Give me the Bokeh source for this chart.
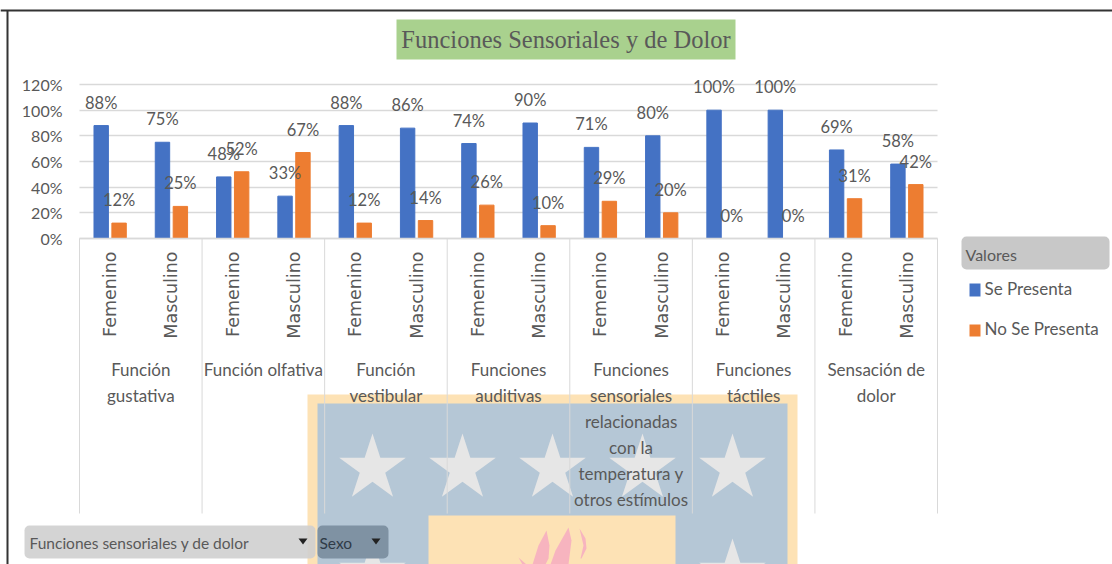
from bokeh.plotting import figure
from bokeh.models import ColumnDataSource, Range1d, LinearAxis, FixedTicker, PrintfTickFormatter, BoxAnnotation, PolyAnnotation, Label, Grid
from bokeh.embed import file_html
from bokeh.resources import INLINE
from bokeh.core.properties import value
import math

groups = ["Función\ngustativa", "Función olfativa", "Función\nvestibular", "Funciones\nauditivas",
          "Funciones\nsensoriales\nrelacionadas\ncon la\ntemperatura y\notros estímulos", "Funciones\ntáctiles", "Sensación de\ndolor"]
sexes = ["Femenino", "Masculino"]
se_presenta = [88, 75, 48, 33, 88, 86, 74, 90, 71, 80, 100, 100, 69, 58]
no_se_presenta = [12, 25, 52, 67, 12, 14, 26, 10, 29, 20, 0, 0, 31, 42]
y_ticks = [0, 20, 40, 60, 80, 100, 120]
title_text = "Funciones Sensoriales y de Dolor"
legend_title = "Valores"
series_names = ["Se Presenta", "No Se Presenta"]
slicers = ["Funciones sensoriales y de dolor", "Sexo"]

BLUE, ORANGE = "#4472c4", "#ed7d31"
TXT = "#595959"
GRID = "#d9d9d9"
FONT = "Lato"
W, H = 1112, 564
X0, XU = 79.0, 858/14   # pixel of category 0 and pixels per category
Y0, YU = 238.0, 154/120  # pixel of 0% and pixels per percent

xpos = [i + 0.5 for i in range(len(se_presenta))]
src = dict(x=xpos, a=se_presenta, b=no_se_presenta, at=[f"{v}%" for v in se_presenta], bt=[f"{v}%" for v in no_se_presenta])
src = ColumnDataSource(src)

p = figure(width=W, height=H, output_backend="svg", toolbar_location=None,
           x_range=Range1d(-X0/XU, (W-X0)/XU), y_range=Range1d(-(H-Y0)/YU, Y0/YU),
           x_axis_type=None, y_axis_type=None,
           min_border_left=0, min_border_right=0, min_border_top=0, min_border_bottom=0)
p.outline_line_color = None
p.background_fill_color = "white"
p.border_fill_color = "white"

def box(l, r, t, b, color, level="underlay", **kw):
    return BoxAnnotation(left=l, right=r, top=t, bottom=b, left_units="canvas", right_units="canvas",
                         top_units="canvas", bottom_units="canvas", fill_color=color, fill_alpha=kw.pop("alpha", 1),
                         line_color=None, level=level, **kw)

def label(x, y, text, size, color=TXT, font=FONT, align="left"):
    return Label(x=x, y=y, x_units="canvas", y_units="canvas", text=text, text_font=font, text_font_size=f"{size}px",
                 text_color=color, text_align=align, text_baseline="middle", level="overlay")

def poly(xs, ys, color, level="underlay"):
    return PolyAnnotation(xs=xs, ys=ys, xs_units="canvas", ys_units="canvas",
                          fill_color=color, fill_alpha=1, line_color=None, level=level)

def star(cx, cy, r):
    xs, ys = [], []
    for i in range(10):
        rr = r if i % 2 == 0 else r*0.382
        a = -math.pi/2 + i*math.pi/5
        xs.append(cx+rr*math.cos(a)); ys.append(cy+rr*math.sin(a))
    return xs, ys

# watermark behind the chart
p.add_layout(box(307, 797, 394, 564, "#fde2b5"))
p.add_layout(box(317, 787, 403, 564, "#b5c7d6"))
for cx, cy in [(372, 468), (462, 468), (552, 468), (642, 468), (732, 468), (372, 573), (732, 573)]:
    p.add_layout(poly(*star(cx, cy, 35), "#e6e6e6"))
p.add_layout(box(428, 675, 515, 564, "#fde2b5"))
for fx, fy in [([546, 549, 548, 545, 532, 538], [530, 545, 558, 564, 564, 545]),
               ([568, 571, 568, 550, 555], [527, 540, 564, 564, 550]),
               ([579, 585, 586, 581, 580, 583], [528, 538, 548, 558, 558, 545]),
               ([518, 526, 522], [557, 564, 564])]:
    p.add_layout(poly(fx, fy, "#f7b4bf"))

# axes
yax = LinearAxis(fixed_location=0, ticker=FixedTicker(ticks=y_ticks), formatter=PrintfTickFormatter(format="%d%%"),
                 bounds=(0, 120), axis_line_color=None, major_tick_line_color=None, minor_tick_line_color=None,
                 major_label_text_font=FONT, major_label_text_font_size="16px", major_label_text_color=TXT,
                 major_label_standoff=11)
p.add_layout(yax, "left")
p.add_layout(Grid(axis=yax, dimension=1, cross_bounds=(0, len(xpos)), grid_line_color=GRID, grid_line_width=1.5))

xax = LinearAxis(fixed_location=0, ticker=FixedTicker(ticks=xpos), bounds=(0, len(xpos)),
                 major_label_overrides={x: sexes[i % 2] for i, x in enumerate(xpos)},
                 axis_line_color=GRID, axis_line_width=1.5, major_tick_line_color=None, minor_tick_line_color=None,
                 major_label_orientation=math.pi/2, major_label_text_font="DejaVu Sans", major_label_text_font_size="17.5px",
                 major_label_text_color=TXT, major_label_standoff=7)
p.add_layout(xax, "below")

# separators between groups and group names
seps = list(range(0, 2*len(groups)+1, 2))
p.segment(x0=seps, x1=seps, y0=0, y1=-(513-Y0)/YU, line_color=GRID, line_width=1)
p.text(x=[2*i+1 for i in range(len(groups))], y=[-(358-Y0)/YU]*len(groups), text=groups, text_font=value(FONT), text_font_size="17px",
       text_color=TXT, text_align="center", text_baseline="top", text_line_height=1.24)

WB, DX = 0.235, 0.146
xa = [x-DX for x in xpos]
xb = [x+DX for x in xpos]
src.data["xa"] = xa
src.data["xb"] = xb
p.vbar(x="xa", top="a", bottom=0, width=WB, source=src, color=BLUE)
p.vbar(x="xb", top="b", bottom=0, width=WB, source=src, color=ORANGE)
tk = dict(text_font=value(FONT), text_font_size="16.5px", text_color=TXT, text_align="center", text_baseline="middle", y_offset=-23, source=src)
p.text(x="xa", y="a", text="at", **tk)
p.text(x="xb", y="b", text="bt", **tk)

# title
p.add_layout(box(396, 735, 19, 59, "#a9d18e"))
p.add_layout(label(565.5, 39, title_text, 24.5, font="Liberation Serif", align="center"))

# frame of the picture
p.add_layout(box(0, W, 9, 11, "#333333", level="overlay"))
p.add_layout(box(6, 8, 10, H, "#333333", level="overlay"))

# legend
p.add_layout(box(961, 1109, 236, 269, "#c8c8c8", border_radius=5))
p.add_layout(label(965, 254, legend_title, 16))
p.add_layout(box(969, 980, 283, 296, BLUE))
p.add_layout(label(984, 288, series_names[0], 17))
p.add_layout(box(969, 980, 324, 336, ORANGE))
p.add_layout(label(984, 328, series_names[1], 17))

# slicers
p.add_layout(box(24, 315, 525, 558, "#cfcfcf", alpha=0.9, border_radius=5))
p.add_layout(label(29, 542, slicers[0], 15.5))
p.add_layout(poly([298, 307, 302.5], [538, 538, 544], "#222222"))
p.add_layout(box(317, 388, 525, 558, "#7f92a3", border_radius=5))
p.add_layout(label(319, 542, slicers[1], 15.5, color="#2f3b47"))
p.add_layout(poly([371, 380, 375.5], [538, 538, 544], "#222222"))

open("out.html", "w").write(file_html(p, INLINE))
